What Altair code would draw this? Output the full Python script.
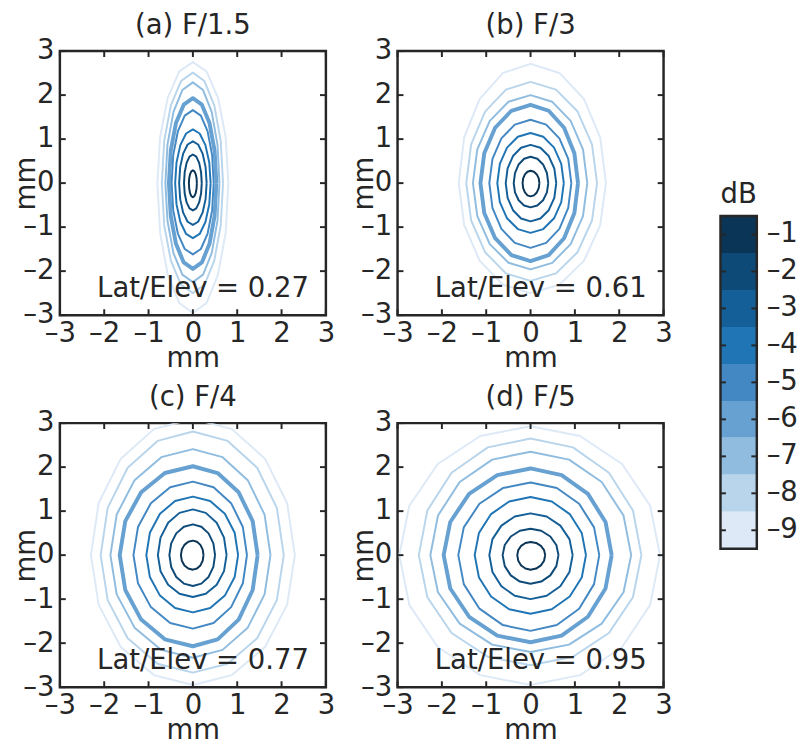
import altair as alt
import numpy as np
import pandas as pd

# ---- data ----
levels = [-1, -2, -3, -4, -5, -6, -7, -8, -9]
level_colors = ["#0b3556", "#0e4a78", "#145f97", "#2075b5", "#4488c3",
                "#66a1d1", "#8fbcdf", "#b9d5eb", "#dde9f6"]
tick_values = [-3, -2, -1, 0, 1, 2, 3]

panel_titles = ["(a) F/1.5", "(b) F/3", "(c) F/4", "(d) F/5"]
panel_ratios = ["0.27", "0.61", "0.77", "0.95"]

# contour half-extents (mm) for levels -1 ... -9
a_right = [0.09, 0.20, 0.31, 0.40, 0.47, 0.53, 0.60, 0.68, 0.80]
a_left = [0.09, 0.20, 0.31, 0.40, 0.48, 0.54, 0.62, 0.70, 0.80]
a_top = [0.29, 0.65, 0.95, 1.22, 1.66, 1.93, 2.29, 2.51, 2.75]
a_bottom = [0.32, 0.62, 0.95, 1.25, 1.62, 1.95, 2.25, 2.50, 2.95]

b_right = [0.20, 0.40, 0.58, 0.75, 0.92, 1.07, 1.28, 1.50, 1.70]
b_left = [0.18, 0.38, 0.56, 0.75, 0.93, 1.13, 1.30, 1.45, 1.62]
b_top = [0.28, 0.60, 0.87, 1.14, 1.44, 1.78, 2.00, 2.30, 2.71]
b_bottom = [0.30, 0.55, 0.87, 1.13, 1.47, 1.77, 1.96, 2.22, 2.50]

c_right = [0.24, 0.50, 0.76, 1.02, 1.22, 1.46, 1.75, 2.05, 2.30]
c_left = [0.27, 0.53, 0.79, 1.05, 1.34, 1.65, 1.86, 2.08, 2.30]
c_top = [0.33, 0.70, 1.04, 1.33, 1.67, 2.02, 2.41, 2.81, 3.10]
c_bottom = [0.33, 0.70, 0.95, 1.30, 1.67, 2.07, 2.33, 2.67, 2.95]

d_right = [0.33, 0.63, 0.95, 1.25, 1.55, 1.83, 2.27, 2.50, 2.92]
d_left = [0.30, 0.63, 0.93, 1.26, 1.63, 1.96, 2.26, 2.52, 2.96]
d_top = [0.30, 0.60, 0.95, 1.32, 1.65, 1.97, 2.35, 2.65, 2.93]
d_bottom = [0.33, 0.65, 1.00, 1.33, 1.72, 1.98, 2.20, 2.50, 2.95]

panels = [
    (a_right, a_left, a_top, a_bottom),
    (b_right, b_left, b_top, b_bottom),
    (c_right, c_left, c_top, c_bottom),
    (d_right, d_left, d_top, d_bottom),
]

# ---- styling ----
FONT = "DejaVu Sans"
FS = 28
INK = "#262626"
W, H = 271, 269
TICK = 6
N_VERT = 16


def contour_frame(right, left, top, bottom):
    rows = []
    for k, lev in enumerate(levels):
        for j in range(N_VERT + 1):
            t = 2 * np.pi * (j % N_VERT) / N_VERT
            c, s = np.cos(t), np.sin(t)
            x = c * (right[k] if c >= 0 else left[k])
            y = s * (top[k] if s >= 0 else bottom[k])
            rows.append({"level": lev, "ord": j, "x": x, "y": y,
                         "sw": 4.0 if lev == -6 else 2.0})
    return pd.DataFrame(rows)


def dash_label(v):
    return ("\u2013" + str(abs(v))) if v < 0 else str(v)


label_expr = "datum.value < 0 ? '\u2013' + abs(datum.value) : '' + datum.value"

ticks_df = pd.DataFrame({"t": tick_values})


def panel(i):
    df = contour_frame(*panels[i])
    xs = alt.Scale(domain=[-3, 3], nice=False, zero=False)
    ys = alt.Scale(domain=[-3, 3], nice=False, zero=False)
    lines = alt.Chart(df).mark_line(clip=True, strokeJoin="round").encode(
        x=alt.X("x:Q", scale=xs,
                axis=alt.Axis(values=tick_values, title="mm", labelExpr=label_expr,
                              labelPadding=5, labelFlush=False, labelOverlap=False,
                              titleBaseline="alphabetic", titleX=W / 2, titleY=52)),
        y=alt.Y("y:Q", scale=ys,
                axis=alt.Axis(values=tick_values, title="mm", labelExpr=label_expr,
                              labelPadding=6, labelFlush=False, labelOverlap=False,
                              titleBaseline="alphabetic",
                              titleAngle=-90, titleX=-26, titleY=H / 2)),
        color=alt.Color("level:O", scale=alt.Scale(domain=levels, range=level_colors),
                        legend=None),
        detail="level:O",
        order="ord:Q",
        strokeWidth=alt.StrokeWidth("sw:Q", scale=None),
    )
    tk = alt.Chart(ticks_df).mark_rule(color=INK, strokeWidth=2)
    bottom = tk.encode(x=alt.X("t:Q", scale=xs), y=alt.value(H), y2=alt.value(H - TICK))
    topt = tk.encode(x=alt.X("t:Q", scale=xs), y=alt.value(0), y2=alt.value(TICK))
    leftt = tk.encode(y=alt.Y("t:Q", scale=ys), x=alt.value(0), x2=alt.value(TICK))
    rightt = tk.encode(y=alt.Y("t:Q", scale=ys), x=alt.value(W), x2=alt.value(W - TICK))
    note = alt.Chart(pd.DataFrame({"tx": [2.62], "ty": [-2.4],
                                   "lab": ["Lat/Elev = " + panel_ratios[i]]})).mark_text(
        align="right", baseline="middle", font=FONT, fontSize=FS, color=INK
    ).encode(x=alt.X("tx:Q", scale=xs), y=alt.Y("ty:Q", scale=ys), text="lab:N")
    return alt.layer(lines, bottom, topt, leftt, rightt, note).properties(
        width=W, height=H,
        title=alt.TitleParams(panel_titles[i], fontSize=FS, fontWeight="normal",
                              font=FONT, color=INK, baseline="alphabetic", offset=-25),
    )


# ---- colour bar ----
cb_df = pd.DataFrame({
    "level": levels,
    "lo": [v - 0.5 for v in levels],
    "hi": [v + 0.5 for v in levels],
    "x0": [0.0] * len(levels),
    "x1": [1.0] * len(levels),
    "tl": [0.15] * len(levels),
    "tr": [0.85] * len(levels),
    "lab": [dash_label(v) for v in levels],
})
cbx = alt.Scale(domain=[0, 1], range=[-15, 22])
cby = alt.Scale(domain=[-9.5, -0.5], range=[507, 168])
cb_base = alt.Chart(cb_df)
cb_bins = cb_base.mark_rect().encode(
    x=alt.X("x0:Q", scale=cbx, axis=None), x2="x1:Q",
    y=alt.Y("lo:Q", scale=cby, axis=None), y2="hi:Q",
    color=alt.Color("level:O", scale=alt.Scale(domain=levels, range=level_colors),
                    legend=None),
)
cb_tl = cb_base.mark_rule(color=INK, strokeWidth=2).encode(
    x=alt.X("x0:Q", scale=cbx, axis=None), x2="tl:Q", y=alt.Y("level:Q", scale=cby, axis=None))
cb_tr = cb_base.mark_rule(color=INK, strokeWidth=2).encode(
    x=alt.X("tr:Q", scale=cbx, axis=None), x2="x1:Q", y=alt.Y("level:Q", scale=cby, axis=None))
cb_lab = cb_base.mark_text(align="left", baseline="middle", dx=10, font=FONT,
                           fontSize=FS, color=INK).encode(
    x=alt.X("x1:Q", scale=cbx, axis=None), y=alt.Y("level:Q", scale=cby, axis=None),
    text="lab:N")
frame_df = pd.DataFrame({"x0": [0.0], "x1": [1.0], "lo": [-9.5], "hi": [-0.5],
                         "xm": [0.5], "t": ["dB"]})
cb_frame = alt.Chart(frame_df).mark_rect(fillOpacity=0, stroke=INK, strokeWidth=2.5).encode(
    x=alt.X("x0:Q", scale=cbx, axis=None), x2="x1:Q",
    y=alt.Y("lo:Q", scale=cby, axis=None), y2="hi:Q")
cb_title = alt.Chart(frame_df).mark_text(align="center", baseline="alphabetic", dy=-13,
                                         font=FONT, fontSize=FS, color=INK).encode(
    x=alt.X("xm:Q", scale=cbx, axis=None), y=alt.Y("hi:Q", scale=cby, axis=None), text="t:N")
colorbar = alt.layer(cb_bins, cb_tl, cb_tr, cb_frame, cb_lab, cb_title).properties(
    width=14, height=H, view=alt.ViewBackground(stroke="transparent"))

chart = alt.concat(panel(0), panel(1), colorbar, panel(2), panel(3), columns=3,
                   spacing=alt.RowColnumber(row=110, column=73), bounds="flush").properties(
    padding={"left": 11, "top": 4, "right": 0, "bottom": 0}
).configure(font=FONT).configure_axis(
    labelFontSize=FS, titleFontSize=FS, labelColor=INK, titleColor=INK,
    titleFontWeight="normal", labelFont=FONT, titleFont=FONT,
    ticks=False, domain=False, grid=False,
).configure_view(stroke=INK, strokeWidth=2.5)

chart.save("out.html", embed_options={"renderer": "svg", "actions": False})
